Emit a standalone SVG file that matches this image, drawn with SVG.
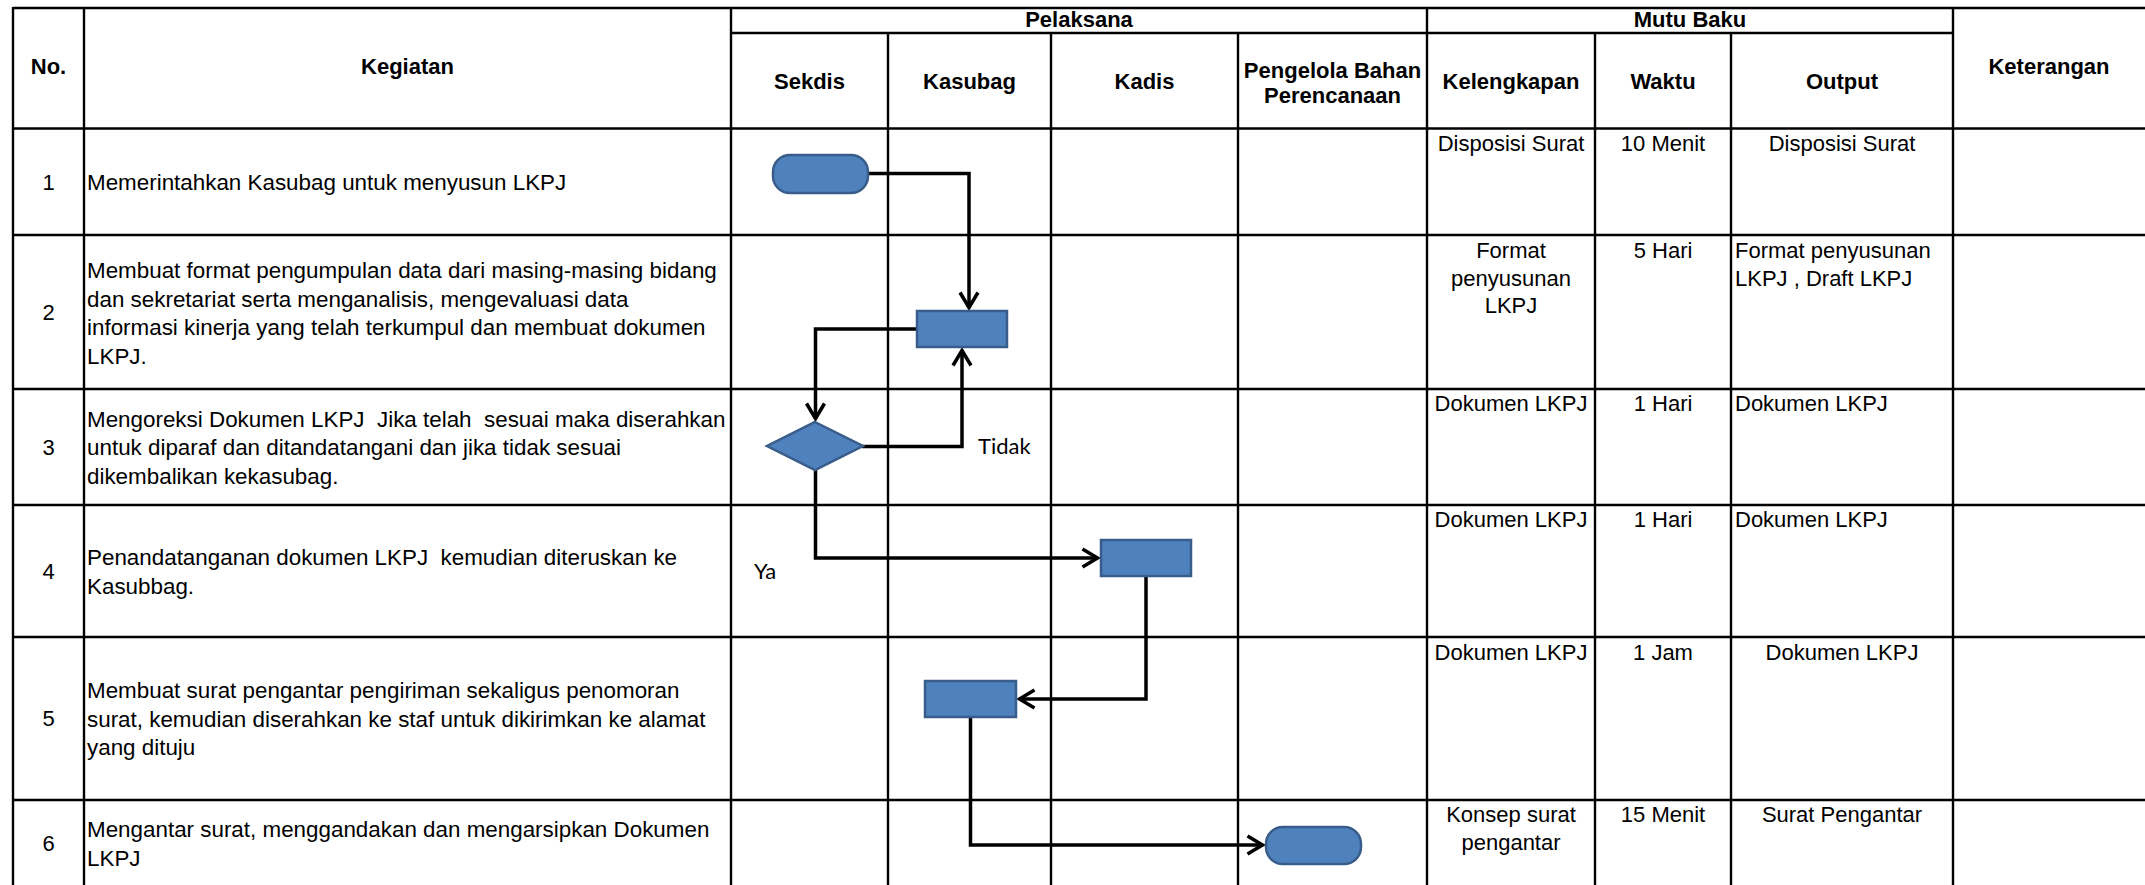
<svg xmlns="http://www.w3.org/2000/svg" width="2145" height="885" viewBox="0 0 2145 885">
<style>
.grid line{stroke:#000;stroke-width:2.4}
text{font-family:"Liberation Sans",Arial,sans-serif;font-size:22px;fill:#000;white-space:pre}
.h{font-weight:bold;text-anchor:middle}
.c{text-anchor:middle}
.k{font-size:22.4px}
.lbl{font-family:Lato,"Liberation Sans",sans-serif;font-size:22px}
.shape{fill:#4F81BD;stroke:#385D8A;stroke-width:2.5}
.conn{fill:none;stroke:#000;stroke-width:3.5;stroke-linejoin:miter}
</style>
<defs>
<marker id="arr" markerUnits="userSpaceOnUse" markerWidth="30" markerHeight="30" viewBox="-20 -15 30 30" refX="0" refY="0" orient="auto">
<path d="M-15,-9 L0,0 L-15,9" fill="none" stroke="#000" stroke-width="3.5" stroke-linejoin="miter"/>
</marker>
</defs>
<rect x="0" y="0" width="2145" height="885" fill="#fff"/>
<g id="table" class="grid">
<line x1="13" y1="8" x2="2145" y2="8"/>
<line x1="731" y1="33" x2="1953" y2="33"/>
<line x1="13" y1="128.5" x2="2145" y2="128.5"/>
<line x1="13" y1="235" x2="2145" y2="235"/>
<line x1="13" y1="389" x2="2145" y2="389"/>
<line x1="13" y1="505" x2="2145" y2="505"/>
<line x1="13" y1="637" x2="2145" y2="637"/>
<line x1="13" y1="800" x2="2145" y2="800"/>
<line x1="13" y1="7" x2="13" y2="885"/>
<line x1="84" y1="7" x2="84" y2="885"/>
<line x1="731" y1="7" x2="731" y2="885"/>
<line x1="888" y1="33" x2="888" y2="885"/>
<line x1="1051" y1="33" x2="1051" y2="885"/>
<line x1="1238" y1="33" x2="1238" y2="885"/>
<line x1="1427" y1="7" x2="1427" y2="885"/>
<line x1="1595" y1="33" x2="1595" y2="885"/>
<line x1="1731" y1="33" x2="1731" y2="885"/>
<line x1="1953" y1="7" x2="1953" y2="885"/>
</g>
<g id="header">
<text class="h" x="48.5" y="74">No.</text>
<text class="h" x="407.5" y="74">Kegiatan</text>
<text class="h" x="1079" y="27">Pelaksana</text>
<text class="h" x="1690" y="27">Mutu Baku</text>
<text class="h" x="2049" y="74">Keterangan</text>
<text class="h" x="809.5" y="89">Sekdis</text>
<text class="h" x="969.5" y="89">Kasubag</text>
<text class="h" x="1144.5" y="89">Kadis</text>
<text class="h" x="1332.5" y="78">Pengelola Bahan</text>
<text class="h" x="1332.5" y="103">Perencanaan</text>
<text class="h" x="1511" y="89">Kelengkapan</text>
<text class="h" x="1663" y="89">Waktu</text>
<text class="h" x="1842" y="89">Output</text>
</g>
<g id="row1">
<text class="c" x="48.5" y="190">1</text>
<text class="k" x="87" y="190">Memerintahkan Kasubag untuk menyusun LKPJ</text>
<text class="c" x="1511" y="151">Disposisi Surat</text>
<text class="c" x="1663" y="151">10 Menit</text>
<text class="c" x="1842" y="151">Disposisi Surat</text>
</g>
<g id="row2">
<text class="c" x="48.5" y="320">2</text>
<text class="k" x="87" y="278">Membuat format pengumpulan data dari masing-masing bidang</text>
<text class="k" x="87" y="306.5">dan sekretariat serta menganalisis, mengevaluasi data</text>
<text class="k" x="87" y="335">informasi kinerja yang telah terkumpul dan membuat dokumen</text>
<text class="k" x="87" y="363.5">LKPJ.</text>
<text class="c" x="1511" y="258">Format</text>
<text class="c" x="1511" y="285.5">penyusunan</text>
<text class="c" x="1511" y="313">LKPJ</text>
<text class="c" x="1663" y="258">5 Hari</text>
<text x="1735" y="258">Format penyusunan</text>
<text x="1735" y="285.5">LKPJ , Draft LKPJ</text>
</g>
<g id="row3">
<text class="c" x="48.5" y="455">3</text>
<text class="k" x="87" y="426.5" xml:space="preserve">Mengoreksi Dokumen LKPJ  Jika telah  sesuai maka diserahkan</text>
<text class="k" x="87" y="455">untuk diparaf dan ditandatangani dan jika tidak sesuai</text>
<text class="k" x="87" y="483.5">dikembalikan kekasubag.</text>
<text class="c" x="1511" y="411">Dokumen LKPJ</text>
<text class="c" x="1663" y="411">1 Hari</text>
<text x="1735" y="411">Dokumen LKPJ</text>
</g>
<g id="row4">
<text class="c" x="48.5" y="579">4</text>
<text class="k" x="87" y="565" xml:space="preserve">Penandatanganan dokumen LKPJ  kemudian diteruskan ke</text>
<text class="k" x="87" y="593.5">Kasubbag.</text>
<text class="c" x="1511" y="527">Dokumen LKPJ</text>
<text class="c" x="1663" y="527">1 Hari</text>
<text x="1735" y="527">Dokumen LKPJ</text>
</g>
<g id="row5">
<text class="c" x="48.5" y="726">5</text>
<text class="k" x="87" y="698">Membuat surat pengantar pengiriman sekaligus penomoran</text>
<text class="k" x="87" y="726.5">surat, kemudian diserahkan ke staf untuk dikirimkan ke alamat</text>
<text class="k" x="87" y="755">yang dituju</text>
<text class="c" x="1511" y="660">Dokumen LKPJ</text>
<text class="c" x="1663" y="660">1 Jam</text>
<text class="c" x="1842" y="660">Dokumen LKPJ</text>
</g>
<g id="row6">
<text class="c" x="48.5" y="851">6</text>
<text class="k" x="87" y="837">Mengantar surat, menggandakan dan mengarsipkan Dokumen</text>
<text class="k" x="87" y="865.5">LKPJ</text>
<text class="c" x="1511" y="822">Konsep surat</text>
<text class="c" x="1511" y="850">pengantar</text>
<text class="c" x="1663" y="822">15 Menit</text>
<text class="c" x="1842" y="822">Surat Pengantar</text>
</g>
<g id="connectors">
<path class="conn" d="M866,173.5 H969 V307.5" marker-end="url(#arr)"/>
<path class="conn" d="M917,329 H815.5 V418.5" marker-end="url(#arr)"/>
<path class="conn" d="M862,446.5 H962 V350.5" marker-end="url(#arr)"/>
<path class="conn" d="M815.5,470 V558 H1097.5" marker-end="url(#arr)"/>
<path class="conn" d="M1146,576 V699 H1019.5" marker-end="url(#arr)"/>
<path class="conn" d="M970.5,717 V845 H1262.5" marker-end="url(#arr)"/>
<text class="lbl" x="978" y="454">Tidak</text>
<text class="lbl" x="754" y="579">Ya</text>
</g>
<g id="start"><rect class="shape" x="773" y="155" width="95" height="38" rx="17" ry="17"/></g>
<g id="step2"><rect class="shape" x="917" y="311" width="90" height="36"/></g>
<g id="decision"><polygon class="shape" points="815,422 863,446 815,470 767,446"/></g>
<g id="step4"><rect class="shape" x="1101" y="540" width="90" height="36"/></g>
<g id="step5"><rect class="shape" x="925" y="681" width="91" height="36"/></g>
<g id="end"><rect class="shape" x="1266" y="827" width="95" height="37" rx="17" ry="17"/></g>
</svg>
